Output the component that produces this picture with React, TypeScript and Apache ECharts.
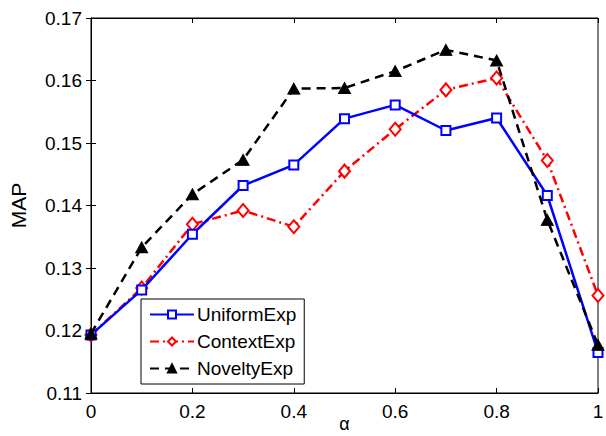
import React, { useEffect, useRef } from "react";
import * as echarts from "echarts";

const alphas = [0, 0.1, 0.2, 0.3, 0.4, 0.5, 0.6, 0.7, 0.8, 0.9, 1];
const uniformExp = [0.1193, 0.1265, 0.1354, 0.1432, 0.1465, 0.1539, 0.1561, 0.152, 0.154, 0.1416, 0.1165];
const contextExp = [0.1193, 0.1268, 0.137, 0.1392, 0.1366, 0.1455, 0.1522, 0.1585, 0.1604, 0.1472, 0.1256];
const noveltyExp = [0.1195, 0.1333, 0.1418, 0.1473, 0.1587, 0.1588, 0.1615, 0.1649, 0.1632, 0.1377, 0.1177];

const FONT = "'Liberation Sans', Arial, Helvetica, sans-serif";

function pairs(ys: number[]) {
  return alphas.map((a, i) => [a, ys[i]]);
}

export default function App() {
  const ref = useRef<HTMLDivElement>(null);
  useEffect(() => {
    if (!ref.current) return;
    const chart = echarts.init(ref.current, undefined, { renderer: "svg" });
    const axisLineStyle = { color: "#000", width: 1 };
    chart.setOption({
      animation: false,
      backgroundColor: "#fff",
      textStyle: { fontFamily: FONT },
      grid: {
        left: 91,
        right: 8,
        top: 18,
        bottom: 43,
        containLabel: false,
        outerBoundsMode: "none",
        show: true,
        borderColor: "#000",
        borderWidth: 1,
        backgroundColor: "transparent",
      },
      legend: {
        left: 141,
        top: 299,
        orient: "vertical",
        backgroundColor: "#fff",
        borderColor: "#000",
        borderWidth: 1,
        padding: [6, 8, 6, 8],
        itemGap: 8,
        itemWidth: 44,
        itemHeight: 10,
        textStyle: { fontFamily: FONT, fontSize: 19, color: "#000", padding: [0, 0, 0, -2] },
        data: ["UniformExp", "ContextExp", "NoveltyExp"],
      },
      xAxis: [
        {
          type: "value",
          min: 0,
          max: 1,
          interval: 0.2,
          name: "α",
          nameLocation: "middle",
          nameGap: 22,
          nameMoveOverlap: false,
          nameTextStyle: { fontFamily: FONT, fontSize: 18, color: "#000" },
          axisLine: { lineStyle: axisLineStyle },
          axisTick: { inside: true, length: 5, lineStyle: axisLineStyle },
          axisLabel: {
            color: "#000",
            fontSize: 19,
            fontFamily: FONT,
            margin: 9,
            formatter: (v: number) => String(Math.round(v * 10) / 10),
          },
          splitLine: { show: false },
        },
        {
          type: "value",
          position: "top",
          min: 0,
          max: 1,
          interval: 0.2,
          axisLine: { lineStyle: axisLineStyle },
          axisTick: { inside: true, length: 5, lineStyle: axisLineStyle },
          axisLabel: { show: false },
          splitLine: { show: false },
        },
      ],
      yAxis: [
        {
          type: "value",
          min: 0.11,
          max: 0.17,
          interval: 0.01,
          name: "MAP",
          nameLocation: "middle",
          nameGap: 62,
          nameMoveOverlap: false,
          nameTextStyle: { fontFamily: FONT, fontSize: 21, color: "#000" },
          axisLine: { show: true, lineStyle: axisLineStyle },
          axisTick: { show: true, inside: true, length: 5, lineStyle: axisLineStyle },
          axisLabel: { color: "#000", fontSize: 19, fontFamily: FONT, margin: 9, formatter: (v: number) => v.toFixed(2) },
          splitLine: { show: false },
        },
        {
          type: "value",
          position: "right",
          min: 0.11,
          max: 0.17,
          interval: 0.01,
          axisLine: { show: true, lineStyle: axisLineStyle },
          axisTick: { show: true, inside: true, length: 5, lineStyle: axisLineStyle },
          axisLabel: { show: false },
          splitLine: { show: false },
        },
      ],
      series: [
        {
          name: "UniformExp",
          type: "line",
          data: pairs(uniformExp),
          color: "#0000ff",
          lineStyle: { color: "#0000ff", width: 2.5, type: "solid" },
          symbol: "rect",
          symbolSize: 9,
          itemStyle: { color: "#fff", borderColor: "#0000ff", borderWidth: 2 },
          z: 3,
        },
        {
          name: "ContextExp",
          type: "line",
          data: pairs(contextExp),
          color: "#ff0000",
          lineStyle: { color: "#ff0000", width: 2.5, type: [9, 4, 2, 4] },
          symbol: "diamond",
          symbolSize: [11, 13],
          itemStyle: { color: "#fff", borderColor: "#ff0000", borderWidth: 2 },
          z: 2,
        },
        {
          name: "NoveltyExp",
          type: "line",
          data: pairs(noveltyExp),
          color: "#000",
          lineStyle: { color: "#000", width: 2.5, type: [9, 6] },
          symbol: "triangle",
          symbolSize: [12, 11],
          itemStyle: { color: "#000", borderColor: "#000", borderWidth: 1 },
          z: 4,
        },
      ],
    });
    return () => chart.dispose();
  }, []);
  return <div ref={ref} style={{ position: "fixed", left: 0, top: 0, width: 606, height: 436 }} />;
}
